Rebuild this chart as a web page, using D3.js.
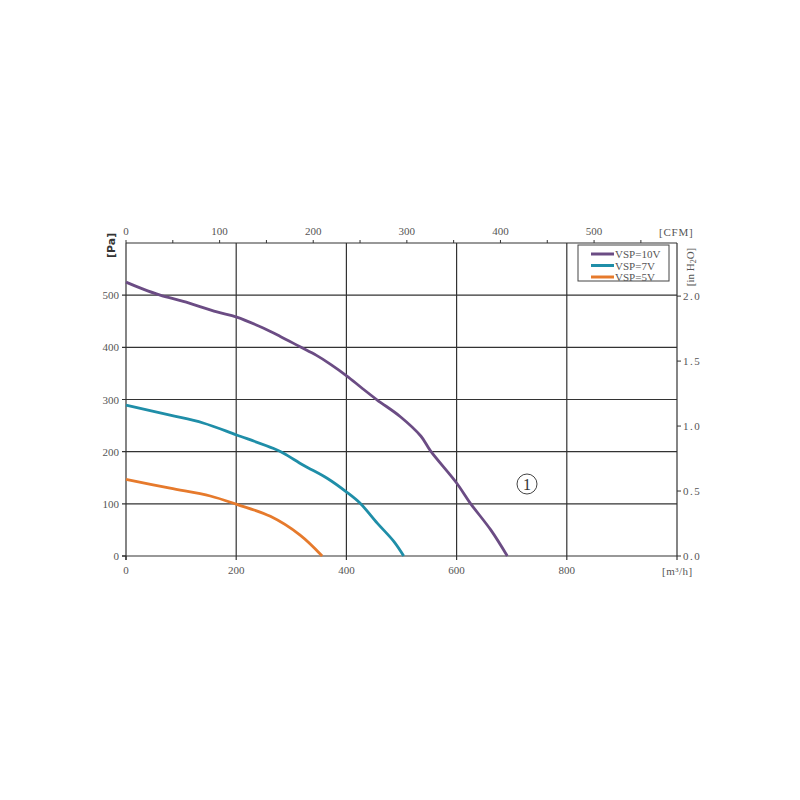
<!DOCTYPE html>
<html><head><meta charset="utf-8">
<script src="https://cdn.jsdelivr.net/npm/d3@7"></script>
<style>body{margin:0;background:#fff}svg{display:block}</style>
</head><body>
<svg id="c" width="800" height="800"></svg>
<script>
// ---- data (flow m³/h, pressure Pa) ----
const seriesNames = ["VSP=10V", "VSP=7V", "VSP=5V"];
const seriesColors = ["#6b4c84", "#1f8ea8", "#e67a2c"];
const flow10 = [0, 30, 62, 104, 165, 201, 249, 280, 316, 345, 372, 401, 428, 456, 498, 535, 553, 600, 625, 662, 692];
const pres10 = [525, 512, 500, 488, 468, 458, 437, 421, 401, 385, 367, 345, 322, 299, 267, 230, 201, 140, 101, 50, 0];
const flow7 = [0, 80, 140, 201, 268, 286, 322, 365, 401, 425, 456, 486, 504];
const pres7 = [289, 270, 255, 232, 206, 197, 174, 149, 122, 101, 63, 28, 0];
const flow5 = [0, 80, 153, 201, 262, 316, 356];
const pres5 = [147, 130, 115, 99, 76, 40, 0];
const xTicks = [0, 200, 400, 600, 800];
const yTicks = [0, 100, 200, 300, 400, 500];
const cfmTicks = [0, 100, 200, 300, 400, 500];
const inTicks = [0, 0.5, 1.0, 1.5, 2.0];
const CFM_PER_M3H = 1 / 1.699;
const PA_PER_INH2O = 249.09;

const svg = d3.select("#c");
const L = 126, R = 677, T = 243, B = 556;
const x = d3.scaleLinear().domain([0, 1000]).range([L, R]);
const y = d3.scaleLinear().domain([0, 600]).range([B, T]);
const xc = d3.scaleLinear().domain([0, 1000 * CFM_PER_M3H]).range([L, R]);
const yr = d3.scaleLinear().domain([0, 600 / PA_PER_INH2O]).range([B, T]);

const font = "'Liberation Serif', 'DejaVu Serif', serif";
const tc = "#555";

// grid
const g = svg.append("g");
g.selectAll(".vg").data(xTicks.filter(d => d > 0)).join("line")
  .attr("x1", d => x(d)).attr("x2", d => x(d)).attr("y1", T).attr("y2", B + 4)
  .attr("stroke", "#333").attr("stroke-width", 1.2);
g.selectAll(".hg").data(yTicks.filter(d => d > 0)).join("line")
  .attr("x1", L - 4).attr("x2", R).attr("y1", d => y(d)).attr("y2", d => y(d))
  .attr("stroke", "#333").attr("stroke-width", 1.2);

// axes
const ax = svg.append("g").attr("stroke", "#333").attr("stroke-width", 1.2);
ax.append("line").attr("x1", L).attr("x2", L).attr("y1", T).attr("y2", B + 4);
ax.append("line").attr("x1", L - 4).attr("x2", R).attr("y1", B).attr("y2", B);
ax.append("line").attr("x1", R).attr("x2", R).attr("y1", T).attr("y2", B);
ax.append("line").attr("x1", L).attr("x2", R).attr("y1", T).attr("y2", T);
ax.append("line").attr("x1", L - 4).attr("x2", L).attr("y1", y(0)).attr("y2", y(0));
ax.append("line").attr("x1", x(0)).attr("x2", x(0)).attr("y1", B).attr("y2", B + 4);
ax.append("line").attr("x1", R).attr("x2", R).attr("y1", B).attr("y2", B + 4);
// top minor ticks every 50 CFM
const cfmMinor = d3.range(0, 600, 50);
ax.selectAll(".tt").data(cfmMinor).join("line")
  .attr("x1", d => xc(d)).attr("x2", d => xc(d)).attr("y1", T - 3).attr("y2", T)
  .attr("stroke-width", 1);
// right ticks
ax.selectAll(".rt").data(inTicks).join("line")
  .attr("x1", R).attr("x2", R + 4).attr("y1", d => yr(d)).attr("y2", d => yr(d))
  .attr("stroke-width", 1);

// labels
const lab = svg.append("g").attr("font-family", font).attr("font-size", 11).attr("fill", tc);
lab.selectAll(".yl").data(yTicks).join("text")
  .attr("x", L - 7).attr("y", d => y(d) + 4).attr("text-anchor", "end").text(d => d);
lab.selectAll(".xl").data(xTicks).join("text")
  .attr("x", d => x(d)).attr("y", B + 18).attr("text-anchor", "middle").text(d => d);
lab.selectAll(".cl").data(cfmTicks).join("text")
  .attr("x", d => xc(d)).attr("y", T - 8).attr("text-anchor", "middle").text(d => d);
lab.selectAll(".rl").data(inTicks).join("text")
  .attr("x", R + 6).attr("y", d => yr(d) + 4).attr("letter-spacing", "1.5")
  .text(d => d.toFixed(1));
lab.append("text").attr("x", 659).attr("y", 236).attr("letter-spacing", "0.8").text("[CFM]");
lab.append("text").attr("x", 662).attr("y", 575).attr("letter-spacing", "0.5").text("[m³/h]");
lab.append("text").attr("transform", "translate(694,267) rotate(-90)").attr("text-anchor", "middle")
  .html("[in H<tspan font-size='8' dy='2'>2</tspan><tspan dy='-2'>O]</tspan>");
svg.append("text").attr("transform", "translate(115,258) rotate(-90)")
  .attr("font-family", "'DejaVu Sans', sans-serif").attr("font-weight", "bold").attr("font-size", 11)
  .attr("fill", "#333").text("[Pa]");

// curves
const data = [
  flow10.map((f, i) => [f, pres10[i]]),
  flow7.map((f, i) => [f, pres7[i]]),
  flow5.map((f, i) => [f, pres5[i]])
];
const line = d3.line().x(d => x(d[0])).y(d => y(d[1])).curve(d3.curveCatmullRom.alpha(0.5));
svg.append("g").selectAll("path").data(data).join("path")
  .attr("d", d => line(d))
  .attr("fill", "none").attr("stroke", (d, i) => seriesColors[i]).attr("stroke-width", 2.8)
  .attr("stroke-linejoin", "round");

// legend
const lg = svg.append("g");
lg.append("rect").attr("x", 578).attr("y", 245).attr("width", 91).attr("height", 36)
  .attr("fill", "#fff").attr("stroke", "#444").attr("stroke-width", 1);
seriesNames.forEach((n, i) => {
  const yy = 254 + i * 11.5;
  lg.append("line").attr("x1", 591).attr("x2", 614).attr("y1", yy).attr("y2", yy)
    .attr("stroke", seriesColors[i]).attr("stroke-width", 3);
  lg.append("text").attr("x", 615).attr("y", yy + 4).attr("font-family", font)
    .attr("font-size", 11).attr("fill", tc).text(n);
});

// curve marker
svg.append("circle").attr("cx", 527).attr("cy", 484).attr("r", 10)
  .attr("fill", "none").attr("stroke", "#444").attr("stroke-width", 1);
svg.append("text").attr("x", 527).attr("y", 490).attr("text-anchor", "middle")
  .attr("font-family", font).attr("font-size", 16).attr("fill", "#333").text("1");
</script>
</body></html>
